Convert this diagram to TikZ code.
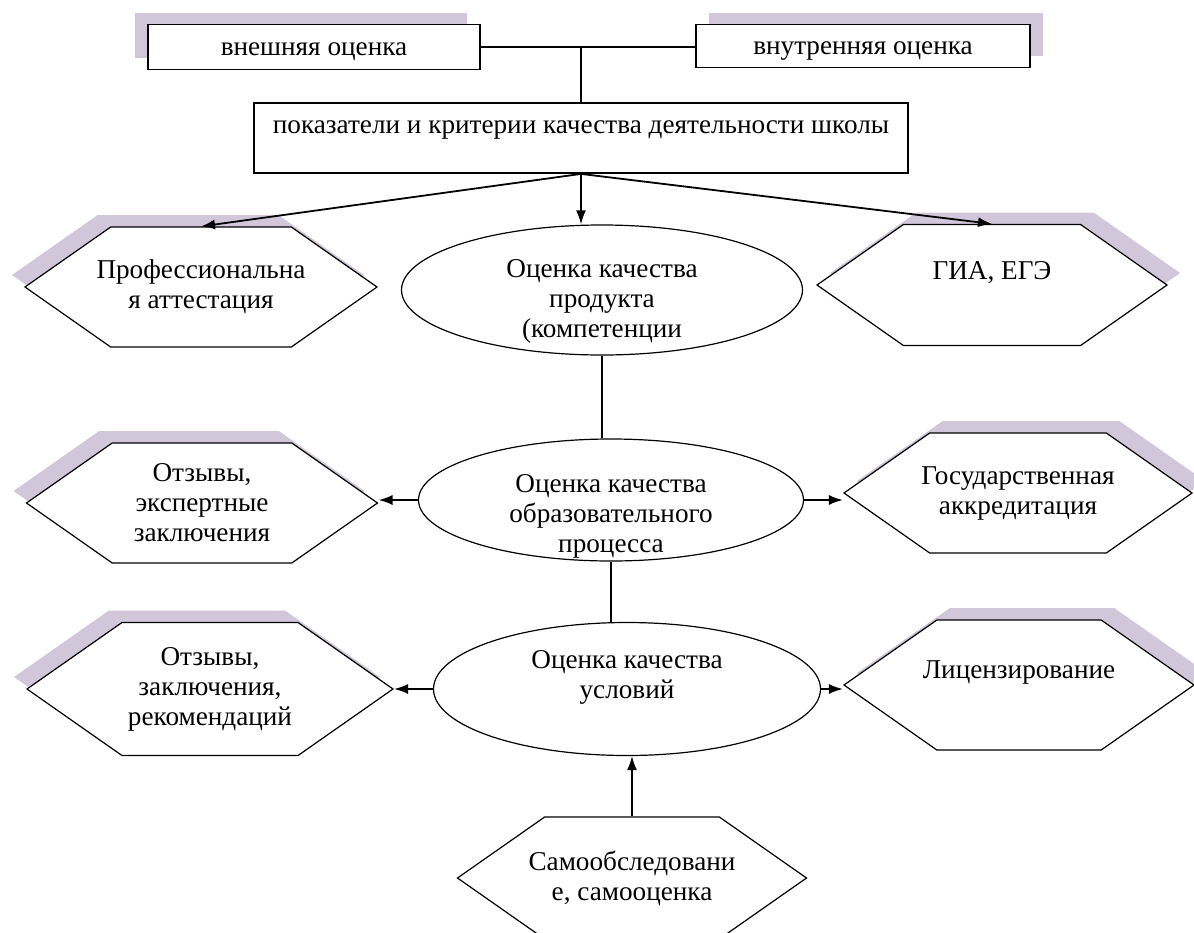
\documentclass[tikz,border=0pt]{standalone}
\usepackage{fontspec}
\setmainfont{Liberation Serif}
\usetikzlibrary{shapes.geometric,shapes.symbols,shadows,arrows.meta}
\definecolor{ombre}{RGB}{210,198,218}
\begin{document}
\begin{tikzpicture}[x=0.5pt,y=-0.5pt]
\tikzset{boite/.style={draw, line width=0.9pt, fill=white, font=\fontsize{13.6}{15}\selectfont, align=center, inner sep=0pt}}
\tikzset{hexa/.style={draw, line width=0.6pt, fill=white, signal, signal to=west and east, signal pointer angle=70, font=\fontsize{13.6}{15}\selectfont, align=center, inner xsep=-20pt, inner ysep=0pt}}
\tikzset{ovale/.style={draw, line width=0.6pt, fill=white, ellipse, font=\fontsize{13.6}{15}\selectfont, align=center, inner sep=-9pt}}
\tikzset{ombreg/.style={general shadow={fill=ombre, shadow xshift=-6.5pt, shadow yshift=6pt}}}
\tikzset{ombred/.style={general shadow={fill=ombre, shadow xshift=6.5pt, shadow yshift=6pt}}}
\tikzset{fleche/.style={-{Latex[length=7pt,width=5pt]}, line width=0.9pt}}
\useasboundingbox (0,0) rectangle (1194,932);
\node[boite, ombreg, minimum width=166pt, minimum height=22.5pt, text height=8.5pt, text depth=0pt] (A) at (314,47) {внешняя оценка};
\node[boite, ombred, minimum width=167pt, minimum height=21.5pt, text height=8.5pt, text depth=0pt] (B) at (863,46) {внутренняя оценка};
\node[boite, minimum width=327pt, minimum height=35pt] (C) at (581,138) {показатели и критерии качества деятельности школы\\[-4pt]~};
\node[hexa, ombreg, minimum width=176pt, minimum height=60pt] (L1) at (201,287) {Профессиональна\\я аттестация};
\node[ovale, minimum width=200.5pt, minimum height=65pt] (E1) at (602,290) {\strut\\[-5pt]Оценка качества\\продукта\\(компетенции};
\node[hexa, ombred, minimum width=175pt, minimum height=60.5pt] (R1) at (992,285) {ГИА, ЕГЭ\\~};
\node[hexa, ombreg, minimum width=175.5pt, minimum height=60pt] (L2) at (202,503) {Отзывы,\\экспертные\\заключения};
\node[ovale, minimum width=192.5pt, minimum height=61pt] (E2) at (611,500) {\strut\\Оценка качества\\образовательного\\процесса};
\node[hexa, ombred, minimum width=174pt, minimum height=60pt] (R2) at (1018,493) {Государственная\\аккредитация};
\node[hexa, ombreg, minimum width=183pt, minimum height=66.5pt] (L3) at (210,689) {Отзывы,\\заключения,\\рекомендаций};
\node[ovale, minimum width=193.5pt, minimum height=66.5pt] (E3) at (627,689) {Оценка качества\\условий\\~};
\node[hexa, ombred, minimum width=175pt, minimum height=65pt] (R3) at (1019,685) {Лицензирование\\~};
\node[hexa, minimum width=174.5pt, minimum height=61pt] (S) at (632,878) {Самообследовани\\е, самооценка};
\draw[line width=0.6pt] (A.east) -- (A.east -| B.west);
\draw[line width=0.6pt] (C.north) -- (C.north |- A.east);
\draw[fleche] (C.south) -- (L1.north);
\draw[fleche] (C.south) -- (C.south |- E1.north);
\draw[fleche] (C.south) -- (R1.north);
\draw[line width=0.6pt] (E1.south) -- (E1.south |- E2.north);
\draw[line width=0.6pt] (E2.south) -- (E2.south |- E3.north);
\draw[fleche] (E2.west) -- (E2.west -| L2.east);
\draw[fleche] (E2.east) -- (E2.east -| R2.west);
\draw[fleche] (E3.west) -- (E3.west -| L3.east);
\draw[fleche] (E3.east) -- (E3.east -| R3.west);
\draw[fleche] (S.north) -- (S.north |- E3.south);
\end{tikzpicture}
\end{document}
